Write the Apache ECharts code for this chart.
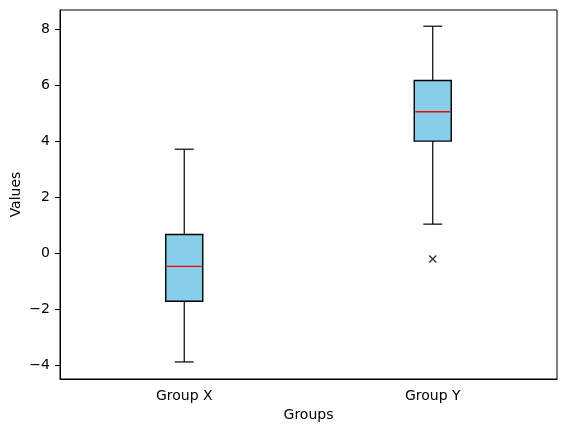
<!DOCTYPE html>
<html>
<head>
<meta charset="utf-8">
<script src="https://cdn.jsdelivr.net/npm/echarts@6/dist/echarts.min.js"></script>
<style>
  html, body { margin: 0; padding: 0; background: #fff; }
  #chart { width: 565px; height: 432px; }
</style>
</head>
<body>
<div id="chart"></div>
<script>
// categories and box stats [min, Q1, median, Q3, max]
const groups = ['Group X', 'Group Y']
const boxStats = [
  [-3.89, -1.72, -0.47, 0.67, 3.72],
  [1.04, 4.01, 5.06, 6.18, 8.12]
]
// outliers [groupIndex, value]
const outliers = [[1, -0.21]]
const yTicks = [-4, -2, 0, 2, 4, 6, 8]

const chart = echarts.init(document.getElementById('chart'))
const font = 'DejaVu Sans'
const minus = v => String(v).replace('-', '\u2212')

// draws one box in matplotlib style (caps half the box width)
function renderBox(params, api) {
  const idx = api.value(0)
  const vals = [1, 2, 3, 4, 5].map(i => api.value(i))
  const x = api.coord([idx, 0])[0]
  const py = vals.map(v => api.coord([idx, v])[1])
  const half = 18.5
  const cap = 9.5
  const black = { stroke: '#000', lineWidth: 1.2 }
  return {
    type: 'group',
    children: [
      { type: 'line', shape: { x1: x, y1: py[0], x2: x, y2: py[1] }, style: black },
      { type: 'line', shape: { x1: x, y1: py[3], x2: x, y2: py[4] }, style: black },
      { type: 'line', shape: { x1: x - cap, y1: py[0], x2: x + cap, y2: py[0] }, style: black },
      { type: 'line', shape: { x1: x - cap, y1: py[4], x2: x + cap, y2: py[4] }, style: black },
      { type: 'rect', shape: { x: x - half, y: py[3], width: half * 2, height: py[1] - py[3] },
        style: { fill: '#87CEEB', stroke: '#000', lineWidth: 1.4 } },
      { type: 'line', shape: { x1: x - half + 1, y1: py[2], x2: x + half - 1, y2: py[2] },
        style: { stroke: '#ff0000', lineWidth: 1.4 } }
    ]
  }
}

const option = {
  backgroundColor: '#fff',
  animation: false,
  grid: {
    left: 60, right: 8, top: 10, bottom: 53,
    outerBoundsMode: 'none',
    show: true, borderColor: '#000', borderWidth: 1
  },
  xAxis: {
    type: 'category',
    data: groups,
    boundaryGap: true,
    name: 'Groups',
    nameLocation: 'middle',
    nameGap: 29,
    nameMoveOverlap: false,
    nameTextStyle: { fontFamily: font, fontSize: 14, color: '#000' },
    axisLine: { onZero: false, lineStyle: { color: '#000' } },
    axisTick: { alignWithLabel: true, length: 5, lineStyle: { color: '#000' } },
    axisLabel: { fontFamily: font, fontSize: 14, color: '#000', margin: 10 },
    splitLine: { show: false }
  },
  yAxis: {
    type: 'value',
    min: -4.5,
    max: 8.7,
    name: 'Values',
    nameLocation: 'middle',
    nameGap: 37,
    nameMoveOverlap: false,
    nameTextStyle: { fontFamily: font, fontSize: 14, color: '#000' },
    axisLine: { show: true, lineStyle: { color: '#000' } },
    axisTick: { show: true, length: 5, customValues: yTicks, lineStyle: { color: '#000' } },
    axisLabel: { fontFamily: font, fontSize: 14, color: '#000', margin: 10,
      customValues: yTicks, formatter: v => minus(v) },
    splitLine: { show: false }
  },
  series: [
    {
      type: 'custom',
      renderItem: renderBox,
      encode: { x: 0, y: [1, 2, 3, 4, 5] },
      data: boxStats.map((s, i) => [i].concat(s)),
      z: 2
    },
    {
      type: 'scatter',
      symbol: 'path://M0,0L10,10M10,0L0,10',
      symbolSize: 7,
      itemStyle: { color: 'none', borderColor: '#000', borderWidth: 1.4 },
      data: outliers,
      z: 3
    }
  ]
}

chart.setOption(option)
</script>
</body>
</html>
